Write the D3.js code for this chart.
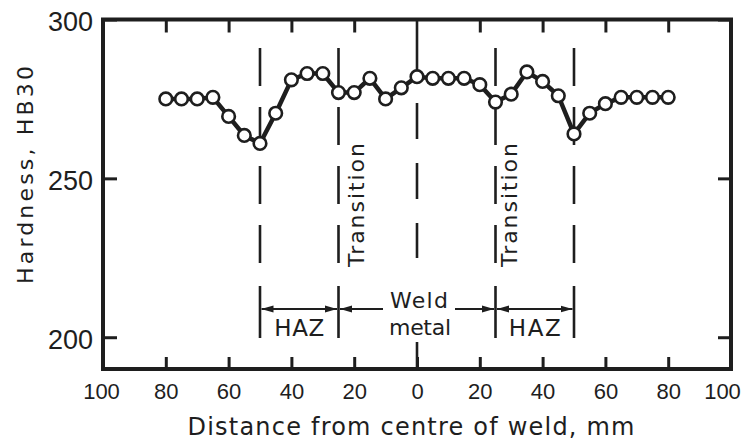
<!DOCTYPE html>
<html>
<head>
<meta charset="utf-8">
<script src="https://cdn.jsdelivr.net/npm/d3@7"></script>
<style>
  html, body { margin: 0; padding: 0; background: #fff; }
  svg { display: block; font-family: "Liberation Sans", "DejaVu Sans", sans-serif; }
</style>
</head>
<body>
<svg id="chart" width="745" height="441"></svg>
<script>
// Hardness traverse across a weld (HB30), 5 mm spacing
const distanceMm = [-80, -75, -70, -65, -60, -55, -50, -45, -40, -35, -30, -25, -20, -15, -10, -5, 0,
                    5, 10, 15, 20, 25, 30, 35, 40, 45, 50, 55, 60, 65, 70, 75, 80];
const hardnessHB30 = [275, 275, 275, 275.5, 269.5, 263.5, 261, 270.5, 281, 283, 283, 277, 277, 281.5, 275, 278.5, 282,
                      281.5, 281.5, 281.5, 279.5, 274, 276.5, 283.5, 280.5, 276, 264, 270.5, 273.5, 275.5, 275.5, 275.5, 275.5];

const xTickValues = [-100, -80, -60, -40, -20, 0, 20, 40, 60, 80, 100];
const yTickValues = [200, 250, 300];
const transitionBounds = [-25, 25];   // weld metal / HAZ transition
const hazBounds = [-50, 50];          // outer edge of heat-affected zone

const ink = "#1e1e1e";
const svg = d3.select("#chart");

const x = d3.scaleLinear().domain([-100, 100]).range([103, 731]);
const y = d3.scaleLinear().domain([190, 300]).range([369, 19.5]);

// ---- axes ----
function styleAxis(g) {
  g.select(".domain").remove();
  g.selectAll(".tick line").attr("stroke", ink).attr("stroke-width", 3);
  g.selectAll(".tick text").attr("fill", ink).attr("font-family", "'Liberation Sans', sans-serif");
}

svg.append("g")
  .attr("transform", `translate(0,${y(190)})`)
  .call(d3.axisBottom(x).tickValues(xTickValues).tickFormat(d => Math.abs(d)).tickSize(-12).tickPadding(14))
  .call(styleAxis)
  .call(g => g.selectAll(".tick text").attr("font-size", 22)
    .attr("dx", d => d === 100 ? -9 : d === -100 ? -2 : 0));

svg.append("g")
  .attr("transform", `translate(0,${y(300)})`)
  .call(d3.axisTop(x).tickValues(xTickValues.filter(d => d !== 0)).tickFormat("").tickSize(-13))
  .call(styleAxis);

svg.append("g")
  .attr("transform", `translate(${x(-100)},0)`)
  .call(d3.axisLeft(y).tickValues(yTickValues).tickSize(-14).tickPadding(10))
  .call(styleAxis)
  .call(g => g.selectAll(".tick text").attr("font-size", 27).attr("dy", "0.42em"));

svg.append("g")
  .attr("transform", `translate(${x(100)},0)`)
  .call(d3.axisRight(y).tickValues(yTickValues).tickFormat("").tickSize(-13))
  .call(styleAxis);

// frame
svg.append("rect")
  .attr("x", x(-100)).attr("y", y(300))
  .attr("width", x(100) - x(-100)).attr("height", y(190) - y(300))
  .attr("fill", "none").attr("stroke", ink).attr("stroke-width", 4);

// ---- zone boundaries (long-dash verticals) ----
const zoneLines = svg.append("g").attr("stroke", ink).attr("stroke-width", 2.6).attr("fill", "none");
[...hazBounds, ...transitionBounds].forEach(b => {
  zoneLines.append("line")
    .attr("x1", x(b)).attr("x2", x(b)).attr("y1", 48).attr("y2", 272)
    .attr("stroke-dasharray", "38,21");
  zoneLines.append("line")
    .attr("x1", x(b)).attr("x2", x(b)).attr("y1", 286).attr("y2", 338);
});
// weld centre line
zoneLines.append("line").attr("x1", x(0)).attr("x2", x(0)).attr("y1", y(300)).attr("y2", 82);
zoneLines.append("line").attr("x1", x(0)).attr("x2", x(0)).attr("y1", 103).attr("y2", 258)
  .attr("stroke-dasharray", "36,24");
zoneLines.append("line").attr("x1", x(0)).attr("x2", x(0)).attr("y1", 342).attr("y2", y(190));

// ---- zone arrows ----
const arrowY = 309;
svg.append("defs").append("marker")
  .attr("id", "head").attr("viewBox", "0 -5 12 10")
  .attr("refX", 12).attr("refY", 0)
  .attr("markerWidth", 12).attr("markerHeight", 10)
  .attr("markerUnits", "userSpaceOnUse")
  .attr("orient", "auto-start-reverse")
  .append("path").attr("d", "M0,-3.5L12,0L0,3.5Z").attr("fill", ink);

const arrows = [
  [x(-50) + 1.5, x(-25) - 1.5, true, true],
  [x(-25) + 1.5, 383, true, false],
  [455, x(25) - 1.5, false, true],
  [x(25) + 1.5, x(50) - 1.5, true, true]
];
arrows.forEach(([a, b, start, end]) => {
  const l = svg.append("line")
    .attr("x1", a).attr("x2", b).attr("y1", arrowY).attr("y2", arrowY)
    .attr("stroke", ink).attr("stroke-width", 2);
  if (start) l.attr("marker-start", "url(#head)");
  if (end) l.attr("marker-end", "url(#head)");
});

// ---- zone labels ----
const labels = svg.append("g").attr("fill", ink).attr("font-family", "'DejaVu Sans', sans-serif");
labels.append("text").attr("x", (x(-50) + x(-25)) / 2).attr("y", 336)
  .attr("text-anchor", "middle").attr("font-size", 23).attr("textLength", 50).text("HAZ");
labels.append("text").attr("x", (x(25) + x(50)) / 2).attr("y", 336)
  .attr("text-anchor", "middle").attr("font-size", 23).attr("textLength", 52).text("HAZ");
labels.append("text").attr("x", 419).attr("y", 308)
  .attr("text-anchor", "middle").attr("font-size", 22).attr("textLength", 58).text("Weld");
labels.append("text").attr("x", 420).attr("y", 335)
  .attr("text-anchor", "middle").attr("font-size", 22).attr("textLength", 62).text("metal");
transitionBounds.forEach((b, i) => {
  labels.append("text")
    .attr("transform", `translate(${x(b) + (i === 0 ? 25 : 21)},205) rotate(-90)`)
    .attr("text-anchor", "middle").attr("font-size", 22).attr("textLength", 124)
    .text("Transition");
});

// ---- axis titles ----
labels.append("text")
  .attr("transform", "translate(33,175) rotate(-90)")
  .attr("text-anchor", "middle").attr("font-size", 22).attr("textLength", 218)
  .text("Hardness, HB30");
labels.append("text")
  .attr("x", 411).attr("y", 435)
  .attr("text-anchor", "middle").attr("font-size", 24).attr("textLength", 447)
  .text("Distance from centre of weld, mm");

// ---- hardness profile ----
const pts = distanceMm.map((d, i) => [d, hardnessHB30[i]]);
svg.append("path")
  .datum(pts)
  .attr("fill", "none").attr("stroke", ink).attr("stroke-width", 4.5).attr("stroke-linejoin", "round")
  .attr("d", d3.line().x(d => x(d[0])).y(d => y(d[1])));

svg.append("g").selectAll("circle")
  .data(pts).join("circle")
  .attr("cx", d => x(d[0])).attr("cy", d => y(d[1])).attr("r", 6.3)
  .attr("fill", "#fff").attr("stroke", ink).attr("stroke-width", 2.6);
</script>
</body>
</html>
